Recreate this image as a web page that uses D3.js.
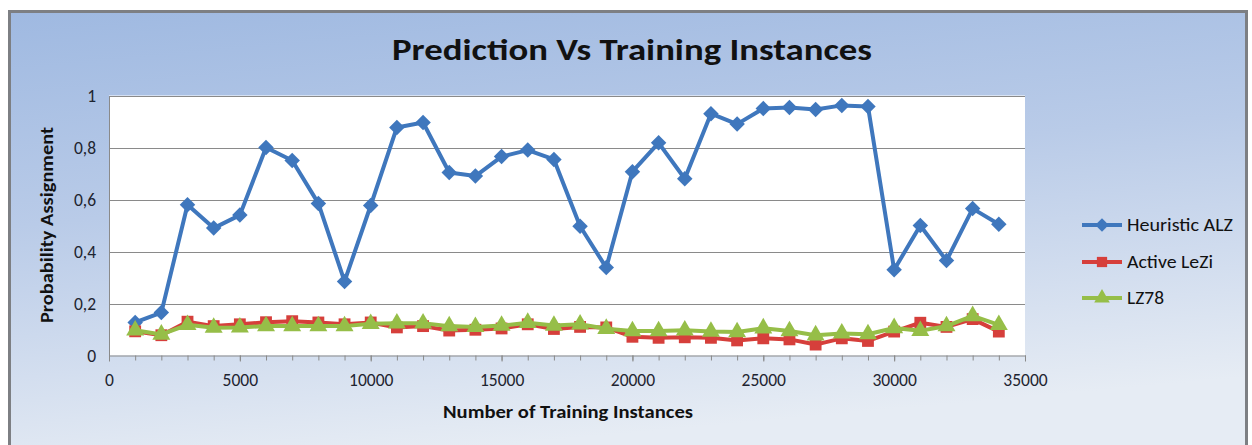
<!DOCTYPE html>
<html>
<head>
<meta charset="utf-8">
<script src="https://cdn.jsdelivr.net/npm/d3@7"></script>
<style>
  html, body { margin: 0; padding: 0; background: #ffffff; }
  svg { display: block; }
  text { font-family: Carlito, Calibri, Lato, "Open Sans", sans-serif; }
</style>
</head>
<body>
<svg id="chart" width="1252" height="445"></svg>
<script>
// Training set sizes (x) and prediction accuracy of each model (y)
const instances = [1000, 2000, 3000, 4000, 5000, 6000, 7000, 8000, 9000, 10000,
  11000, 12000, 13000, 14000, 15000, 16000, 17000, 18000, 19000, 20000,
  21000, 22000, 23000, 24000, 25000, 26000, 27000, 28000, 29000, 30000,
  31000, 32000, 33000, 34000];

const heuristicALZ = [0.127, 0.165, 0.58, 0.49, 0.54, 0.80, 0.75, 0.585, 0.285, 0.577,
  0.877, 0.896, 0.704, 0.69, 0.765, 0.79, 0.754, 0.497, 0.338, 0.707,
  0.818, 0.68, 0.93, 0.89, 0.95, 0.954, 0.946, 0.962, 0.958, 0.33,
  0.50, 0.365, 0.565, 0.505];

const activeLeZi = [0.093, 0.078, 0.13, 0.113, 0.12, 0.128, 0.132, 0.127, 0.12, 0.127,
  0.108, 0.113, 0.096, 0.099, 0.104, 0.12, 0.102, 0.11, 0.108, 0.072,
  0.068, 0.07, 0.068, 0.058, 0.066, 0.062, 0.042, 0.066, 0.056, 0.092,
  0.126, 0.11, 0.14, 0.092];

const lz78 = [0.097, 0.081, 0.118, 0.107, 0.108, 0.113, 0.113, 0.113, 0.113, 0.122,
  0.124, 0.124, 0.113, 0.11, 0.115, 0.126, 0.115, 0.12, 0.103, 0.094,
  0.094, 0.097, 0.092, 0.09, 0.105, 0.094, 0.078, 0.085, 0.082, 0.106,
  0.095, 0.113, 0.152, 0.118];

const yTicks = [0, 0.2, 0.4, 0.6, 0.8, 1];
const xTicks = [0, 5000, 10000, 15000, 20000, 25000, 30000, 35000];

const seriesNames = ["Heuristic ALZ", "Active LeZi", "LZ78"];
const seriesColors = ["#3f77bd", "#d63f3b", "#96be48"];
const seriesValues = [heuristicALZ, activeLeZi, lz78];
// Marker shapes: diamond (square turned 45°), square, triangle
const markerType = [d3.symbolSquare, d3.symbolSquare, d3.symbolTriangle];
const markerRotate = [45, 0, 0];
const markerSize = [120, 140, 140];

const svg = d3.select("#chart");
const W = 1252, H = 445;
const FONT = "Carlito, Calibri, Lato, sans-serif";

// Chart area background: soft blue gradient
const defs = svg.append("defs");
const grad = defs.append("linearGradient")
  .attr("id", "bg").attr("x1", "0").attr("y1", "0").attr("x2", "0.25").attr("y2", "1");
grad.append("stop").attr("offset", "0").attr("stop-color", "#9fb9e1");
grad.append("stop").attr("offset", "0.45").attr("stop-color", "#b9cbe8");
grad.append("stop").attr("offset", "1").attr("stop-color", "#e6ecf4");

svg.append("rect").attr("x", 0).attr("y", 0).attr("width", W).attr("height", H).attr("fill", "#ffffff");
svg.append("rect")
  .attr("x", 9.5).attr("y", 11.5).attr("width", 1237).attr("height", 450)
  .attr("fill", "url(#bg)")
  .attr("stroke", "#7d7f83").attr("stroke-width", 3);

// Plot area
const margin = { left: 109, right: 1025, top: 95.5, bottom: 355.5 };
const x = d3.scaleLinear().domain([0, 35000]).range([margin.left, margin.right]);
const y = d3.scaleLinear().domain([0, 1]).range([margin.bottom, margin.top]);

svg.append("rect")
  .attr("x", margin.left).attr("y", margin.top)
  .attr("width", margin.right - margin.left).attr("height", margin.bottom - margin.top)
  .attr("fill", "#ffffff");

// Horizontal gridlines
svg.append("g")
  .selectAll("line")
  .data(yTicks.filter(d => d > 0))
  .join("line")
  .attr("x1", margin.left).attr("x2", margin.right)
  .attr("y1", d => Math.round(y(d)) + 0.5).attr("y2", d => Math.round(y(d)) + 0.5)
  .attr("stroke", "#8a8a8a").attr("stroke-width", 1);

// Y axis
const yAxis = svg.append("g")
  .attr("transform", `translate(${margin.left},0)`)
  .call(d3.axisLeft(y).tickValues(yTicks).tickSize(0).tickPadding(13)
    .tickFormat(d => d3.format("~g")(d).replace(".", ",")));
yAxis.select(".domain").attr("stroke", "#8a8a8a");
yAxis.selectAll("text")
  .attr("font-size", 17.5).attr("fill", "#1e2430").attr("font-family", FONT);

// X axis with minor ticks at every 1000
const xAxisMinor = svg.append("g")
  .attr("transform", `translate(0,${margin.bottom})`)
  .call(d3.axisBottom(x).tickValues(d3.range(0, 35001, 1000)).tickSize(5).tickFormat(""));
xAxisMinor.select(".domain").attr("stroke", "#8a8a8a");
xAxisMinor.selectAll(".tick line").attr("stroke", "#8a8a8a");

const xAxis = svg.append("g")
  .attr("transform", `translate(0,${margin.bottom})`)
  .call(d3.axisBottom(x).tickValues(xTicks).tickSize(6).tickPadding(12).tickFormat(d3.format("d")));
xAxis.select(".domain").remove();
xAxis.selectAll(".tick line").attr("stroke", "#8a8a8a");
xAxis.selectAll("text")
  .attr("font-size", 17.5).attr("fill", "#1e2430").attr("font-family", FONT);

// Series lines and markers
const line = d3.line()
  .x((d, i) => x(instances[i]))
  .y(d => y(d));

seriesValues.forEach((vals, s) => {
  const g = svg.append("g");
  g.append("path")
    .datum(vals)
    .attr("d", line)
    .attr("fill", "none")
    .attr("stroke", seriesColors[s])
    .attr("stroke-width", 4)
    .attr("stroke-linejoin", "round");
  g.selectAll("path.marker")
    .data(vals)
    .join("path")
    .attr("class", "marker")
    .attr("transform", (d, i) => `translate(${x(instances[i])},${y(d)}) rotate(${markerRotate[s]})`)
    .attr("d", d3.symbol().type(markerType[s]).size(markerSize[s]))
    .attr("fill", seriesColors[s]);
});

// Title
svg.append("text")
  .attr("x", 632).attr("y", 60)
  .attr("text-anchor", "middle")
  .attr("font-size", 31).attr("font-weight", "bold").attr("fill", "#111")
  .attr("textLength", 480).attr("lengthAdjust", "spacingAndGlyphs")
  .text("Prediction Vs Training Instances");

// Axis titles
svg.append("text")
  .attr("transform", "translate(53,225) rotate(-90)")
  .attr("text-anchor", "middle")
  .attr("font-size", 17).attr("font-weight", "bold").attr("fill", "#111")
  .attr("textLength", 196).attr("lengthAdjust", "spacingAndGlyphs")
  .text("Probability Assignment");

svg.append("text")
  .attr("x", 568).attr("y", 418)
  .attr("text-anchor", "middle")
  .attr("font-size", 17).attr("font-weight", "bold").attr("fill", "#111")
  .attr("textLength", 250).attr("lengthAdjust", "spacingAndGlyphs")
  .text("Number of Training Instances");

// Legend
const legend = svg.append("g");
const legendY = [225, 262, 298];
const legendWidths = [106, 86, 37];
seriesNames.forEach((name, s) => {
  const row = legend.append("g").attr("transform", `translate(0,${legendY[s]})`);
  row.append("line")
    .attr("x1", 1082).attr("x2", 1122).attr("y1", 0).attr("y2", 0)
    .attr("stroke", seriesColors[s]).attr("stroke-width", 4);
  row.append("path")
    .attr("transform", `translate(1102,0) rotate(${markerRotate[s]})`)
    .attr("d", d3.symbol().type(markerType[s]).size(markerSize[s] * 0.75))
    .attr("fill", seriesColors[s]);
  row.append("text")
    .attr("x", 1127).attr("y", 0).attr("dy", "0.36em")
    .attr("font-size", 18).attr("fill", "#111")
    .attr("textLength", legendWidths[s]).attr("lengthAdjust", "spacingAndGlyphs")
    .text(name);
});
</script>
</body>
</html>
